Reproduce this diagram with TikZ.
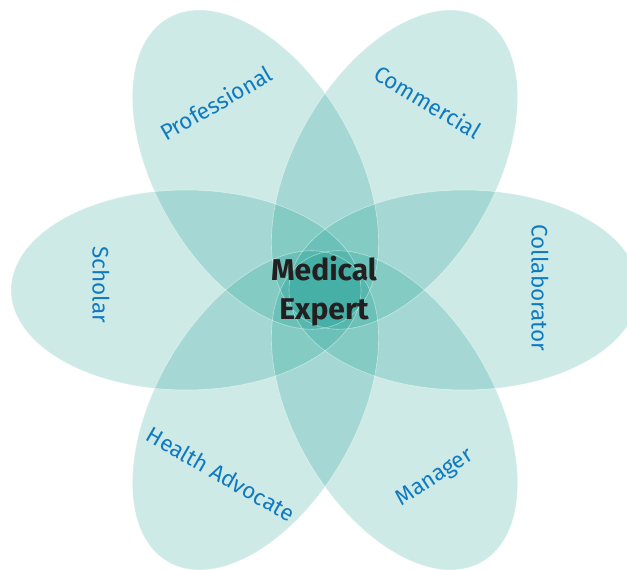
\documentclass[tikz,border=0pt]{standalone}
\usepackage{fontspec}
\setmainfont{Fira Sans}
\definecolor{petalbase}{RGB}{5,148,135}
\definecolor{labelblue}{RGB}{16,122,192}
\definecolor{centertext}{RGB}{35,31,32}
\tikzset{
  petal/.style={fill=petalbase, fill opacity=0.2},
  petaledge/.style={draw=white, draw opacity=0.45, line width=0.6pt},
  lbl/.style={text=labelblue, font=\fontsize{22.5}{26}\selectfont, inner sep=0pt},
  centerlbl/.style={text=centertext, font=\bfseries\fontsize{30}{39}\selectfont, align=center, inner sep=0pt}
}
\begin{document}
\begin{tikzpicture}[x=1pt,y=1pt]
\useasboundingbox (0,0) rectangle (627,570);
\clip (0,0) rectangle (627,570);
\coordinate (C) at (325,280);
\foreach \a in {0,60,120,180,240,300}{
  \begin{scope}[shift={(C)}, rotate=\a]
    \fill[petal] (139,0) ellipse [x radius=175, y radius=100];
  \end{scope}
}
\foreach \a in {0,60,120,180,240,300}{
  \begin{scope}[shift={(C)}, rotate=\a]
    \draw[petaledge] (139,0) ellipse [x radius=175, y radius=100];
  \end{scope}
}
\node[lbl, rotate=30] (professional) at (216,467) {Professional};
\node[lbl, rotate=-31] (commercial) at (428,468) {Commercial};
\node[lbl, rotate=-90] (collaborator) at (540,282) {Collaborator};
\node[lbl, rotate=-90] (scholar) at (101,285) {Scholar};
\node[lbl, rotate=-30] (health) at (221,96) {Health Advocate};
\node[lbl, rotate=33] (manager) at (435,92) {Manager};
\node[centerlbl] (medical) at (324,279) {Medical\\Expert};
\end{tikzpicture}
\end{document}
